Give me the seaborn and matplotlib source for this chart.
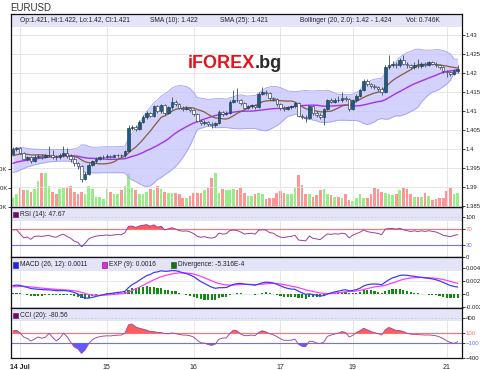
import matplotlib
matplotlib.use("Agg")
import matplotlib.pyplot as plt
import numpy as np
import pandas as pd
import seaborn as sns
from matplotlib.patches import Rectangle

W, H = 480, 370

# hourly bars, 0 = 14 Jul 00:00 (weekend hours skipped, "19" = Sunday open)
HOURS = list(range(-2, 122))

# closes before the visible window, estimated from where SMA/Bollinger/MACD/RSI
# stand at the left edge; they only feed the indicators and are not drawn
PRE_CLOSES = [
    1.3935, 1.3930, 1.3928, 1.3935, 1.3932, 1.3940, 1.3938, 1.3945, 1.3942, 1.3950,
    1.3948, 1.3955, 1.3958, 1.3965, 1.3962, 1.3970, 1.3968, 1.3975, 1.3972, 1.3980,
    1.3978, 1.3985, 1.3982, 1.3978, 1.3984, 1.3988,
]

OPENS = [
    1.3988, 1.4000, 1.4002, 1.3990, 1.3975, 1.3978, 1.3968, 1.3980, 1.3982, 1.3980, 1.3983, 1.3985,
    1.3980, 1.3978, 1.3985, 1.3990, 1.3982, 1.3975, 1.3962, 1.3955, 1.3922, 1.3935,
    1.3958, 1.3968, 1.3975, 1.3978, 1.3980, 1.3982, 1.3980, 1.3983, 1.3985, 1.3984,
    1.3995, 1.4055, 1.4058, 1.4052, 1.4072, 1.4085, 1.4095, 1.4088, 1.4112, 1.4100,
    1.4115, 1.4095, 1.4110, 1.4125, 1.4118, 1.4108, 1.4105, 1.4108, 1.4102, 1.4092,
    1.4075, 1.4068, 1.4072, 1.4065, 1.4062, 1.4068, 1.4098, 1.4092, 1.4095, 1.4125,
    1.4130, 1.4128, 1.4120, 1.4108, 1.4112, 1.4115, 1.4110, 1.4145, 1.4150, 1.4148,
    1.4135, 1.4132, 1.4118, 1.4108, 1.4105, 1.4110, 1.4112, 1.4120, 1.4088, 1.4085,
    1.4082, 1.4112, 1.4095, 1.4090, 1.4085, 1.4105, 1.4128, 1.4125, 1.4130, 1.4128,
    1.4135, 1.4132, 1.4105, 1.4128, 1.4140, 1.4155, 1.4180, 1.4170, 1.4165, 1.4162,
    1.4158, 1.4150, 1.4215, 1.4222, 1.4225, 1.4220, 1.4235, 1.4225, 1.4220, 1.4215,
    1.4222, 1.4218, 1.4225, 1.4222, 1.4228, 1.4225, 1.4222, 1.4215, 1.4205, 1.4202, 1.4198, 1.4205,
]
HIGHS = [
    1.4004, 1.4006, 1.4005, 1.3992, 1.3982, 1.3981, 1.3984, 1.3988, 1.3986, 1.3988, 1.4008, 1.3998,
    1.3985, 1.3990, 1.4008, 1.4002, 1.3988, 1.3978, 1.3965, 1.3958, 1.3940, 1.3962,
    1.3972, 1.3980, 1.3982, 1.3984, 1.3986, 1.3985, 1.3987, 1.3988, 1.3988, 1.3998,
    1.4062, 1.4064, 1.4062, 1.4076, 1.4089, 1.4100, 1.4098, 1.4116, 1.4115, 1.4119,
    1.4118, 1.4114, 1.4137, 1.4128, 1.4120, 1.4112, 1.4112, 1.4110, 1.4105, 1.4095,
    1.4080, 1.4077, 1.4075, 1.4070, 1.4072, 1.4102, 1.4101, 1.4099, 1.4128, 1.4155,
    1.4160, 1.4132, 1.4123, 1.4116, 1.4119, 1.4118, 1.4149, 1.4162, 1.4155, 1.4151,
    1.4138, 1.4135, 1.4121, 1.4112, 1.4114, 1.4116, 1.4124, 1.4123, 1.4092, 1.4090,
    1.4116, 1.4115, 1.4099, 1.4094, 1.4108, 1.4131, 1.4133, 1.4135, 1.4140, 1.4150,
    1.4140, 1.4135, 1.4132, 1.4144, 1.4159, 1.4185, 1.4184, 1.4174, 1.4170, 1.4166,
    1.4162, 1.4220, 1.4247, 1.4232, 1.4230, 1.4240, 1.4248, 1.4230, 1.4225, 1.4228,
    1.4236, 1.4230, 1.4230, 1.4232, 1.4231, 1.4228, 1.4225, 1.4218, 1.4208, 1.4206, 1.4210, 1.4220,
]
LOWS = [
    1.3985, 1.3996, 1.3986, 1.3970, 1.3968, 1.3962, 1.3965, 1.3976, 1.3975, 1.3977, 1.3980, 1.3975,
    1.3972, 1.3974, 1.3980, 1.3976, 1.3966, 1.3955, 1.3948, 1.3914, 1.3918, 1.3932,
    1.3955, 1.3964, 1.3970, 1.3975, 1.3976, 1.3977, 1.3978, 1.3979, 1.3980, 1.3980,
    1.3993, 1.4050, 1.4048, 1.4050, 1.4068, 1.4080, 1.4083, 1.4085, 1.4095, 1.4096,
    1.4090, 1.4092, 1.4106, 1.4112, 1.4104, 1.4101, 1.4102, 1.4097, 1.4086, 1.4070,
    1.4063, 1.4064, 1.4060, 1.4055, 1.4058, 1.4065, 1.4088, 1.4089, 1.4092, 1.4122,
    1.4124, 1.4115, 1.4104, 1.4104, 1.4108, 1.4106, 1.4108, 1.4141, 1.4142, 1.4130,
    1.4127, 1.4113, 1.4103, 1.4100, 1.4102, 1.4106, 1.4108, 1.4084, 1.4080, 1.4071,
    1.4080, 1.4090, 1.4085, 1.4080, 1.4063, 1.4102, 1.4120, 1.4121, 1.4123, 1.4124,
    1.4127, 1.4100, 1.4102, 1.4124, 1.4136, 1.4152, 1.4165, 1.4160, 1.4157, 1.4153,
    1.4143, 1.4148, 1.4210, 1.4216, 1.4214, 1.4216, 1.4220, 1.4214, 1.4210, 1.4211,
    1.4212, 1.4214, 1.4217, 1.4218, 1.4220, 1.4217, 1.4210, 1.4200, 1.4190, 1.4192, 1.4196, 1.4200,
]
CLOSES = [
    1.4000, 1.4002, 1.3990, 1.3975, 1.3978, 1.3968, 1.3980, 1.3982, 1.3980, 1.3983, 1.3985, 1.3980,
    1.3978, 1.3985, 1.3990, 1.3982, 1.3975, 1.3962, 1.3955, 1.3922, 1.3935, 1.3958,
    1.3968, 1.3975, 1.3978, 1.3980, 1.3982, 1.3980, 1.3983, 1.3985, 1.3984, 1.3995,
    1.4055, 1.4058, 1.4052, 1.4072, 1.4085, 1.4095, 1.4088, 1.4112, 1.4100, 1.4115,
    1.4095, 1.4110, 1.4125, 1.4118, 1.4108, 1.4105, 1.4108, 1.4102, 1.4092, 1.4075,
    1.4068, 1.4072, 1.4065, 1.4062, 1.4068, 1.4098, 1.4092, 1.4095, 1.4125, 1.4130,
    1.4128, 1.4120, 1.4108, 1.4112, 1.4115, 1.4110, 1.4145, 1.4150, 1.4148, 1.4135,
    1.4132, 1.4118, 1.4108, 1.4105, 1.4110, 1.4112, 1.4120, 1.4088, 1.4085, 1.4082,
    1.4112, 1.4095, 1.4090, 1.4085, 1.4105, 1.4128, 1.4125, 1.4130, 1.4128, 1.4135,
    1.4132, 1.4105, 1.4128, 1.4140, 1.4155, 1.4180, 1.4170, 1.4165, 1.4162, 1.4158,
    1.4150, 1.4215, 1.4222, 1.4225, 1.4220, 1.4235, 1.4225, 1.4220, 1.4215, 1.4222,
    1.4218, 1.4225, 1.4222, 1.4228, 1.4225, 1.4222, 1.4215, 1.4205, 1.4202, 1.4198, 1.4205, 1.4210,
]
VOLUMES_K = [
    0.49, 0.68, 1.00, 0.90, 0.87, 0.78, 0.96, 1.37, 1.80, 1.80, 1.10, 0.78,
    0.70, 0.96, 1.00, 1.07, 1.10, 0.78, 0.70, 0.78, 0.70, 1.10,
    0.96, 0.50, 0.50, 0.40, 0.96, 0.78, 0.70, 0.70, 0.87, 1.10,
    1.80, 1.00, 0.87, 0.70, 0.70, 0.78, 0.96, 0.87, 1.10, 0.96,
    0.78, 0.72, 0.75, 0.75, 0.67, 0.49, 0.49, 0.58, 0.75, 0.75,
    0.75, 0.88, 1.02, 1.54, 1.81, 0.75, 0.93, 0.88, 0.88, 0.93,
    0.88, 1.02, 0.75, 0.58, 0.58, 0.67, 0.72, 0.67, 0.40, 0.45,
    0.45, 0.72, 0.85, 0.72, 0.70, 0.70, 1.02, 1.68, 1.16, 0.67,
    0.67, 0.53, 0.63, 0.90, 0.93, 0.67, 0.62, 0.55, 0.55, 0.49,
    0.67, 0.38, 0.30, 0.49, 0.67, 0.49, 0.49, 0.67, 1.02, 0.93,
    0.80, 0.75, 0.70, 0.62, 0.67, 0.88, 0.98, 0.93, 0.67, 0.53,
    0.53, 0.53, 0.72, 0.60, 0.35, 0.40, 0.45, 0.45, 0.85, 1.02, 0.67, 0.75,
]

DAY_TICKS = [0, 24, 48, 72, 92, 118]
DAY_LABELS = ["14 Jul", "15", "16", "17", "19", "21"]
PRICE_TICKS = [1.385, 1.39, 1.395, 1.4, 1.405, 1.41, 1.415, 1.42, 1.425, 1.43]
VOL_TICKS = [0, 1, 2]
VOL_LABELS = ["0.0K", "1.0K", "2.0K"]
RSI_TICKS = [0, 30, 70, 100]
MACD_TICKS = [-0.002, 0, 0.002, 0.004]
MACD_LABELS = ["-0.002", "0", "0.002", "0.004"]
CCI_TICKS = [-400, -100, 100, 400]

MAIN_LEGEND = [
    (13, "#1e6b8f", "Op:1.421, Hi:1.422, Lo:1.42, Cl:1.421"),
    (143, "#7a3b10", "SMA (10): 1.422"),
    (213, "#9b1fe8", "SMA (25): 1.421"),
    (293, "#7070ee", "Bollinger (20, 2.0): 1.42 - 1.424"),
    (399, "#88ee88", "Vol: 0.746K"),
]
RSI_LEGEND = [(13, "#800080", "RSI (14): 47.67")]
MACD_LEGEND = [
    (13, "#2222ee", "MACD (26, 12): 0.0011"),
    (102, "#ee22ee", "EXP (9): 0.0016"),
    (171, "#117711", "Divergence: -5.316E-4"),
]
CCI_LEGEND = [(13, "#800080", "CCI (20): -80.56")]

GRID = "#e2e2e2"
RED = "#ff6f6f"
BLUE = "#7070ff"
TICK_SIZE = 4.3


def indicators() -> pd.DataFrame:
    n_pre = len(PRE_CLOSES)
    full = pd.DataFrame({
        "c": PRE_CLOSES + CLOSES,
        "h": PRE_CLOSES + HIGHS,
        "l": PRE_CLOSES + LOWS,
    })
    c = full["c"]
    full["sma10"] = c.rolling(10, min_periods=1).mean()
    full["sma25"] = c.rolling(25, min_periods=1).mean()
    mid = c.rolling(20, min_periods=1).mean()
    sd = c.rolling(20, min_periods=1).std(ddof=0)
    full["bb_up"] = mid + 2 * sd
    full["bb_lo"] = mid - 2 * sd
    delta = c.diff()
    gain = delta.clip(lower=0).ewm(alpha=1 / 14, adjust=False).mean()
    loss = (-delta.clip(upper=0)).ewm(alpha=1 / 14, adjust=False).mean()
    full["rsi"] = (100 - 100 / (1 + gain / loss)).fillna(50)
    macd = c.ewm(span=12, adjust=False).mean() - c.ewm(span=26, adjust=False).mean()
    full["macd"] = macd
    full["sig"] = macd.ewm(span=9, adjust=False).mean()
    full["div"] = full["macd"] - full["sig"]
    tp = (full["h"] + full["l"] + full["c"]) / 3
    tp_mean = tp.rolling(20, min_periods=1).mean()
    md = tp.rolling(20, min_periods=1).apply(lambda a: np.mean(np.abs(a - a.mean())), raw=True)
    full["cci"] = ((tp - tp_mean) / (0.015 * md)).replace([np.inf, -np.inf], np.nan).fillna(0)

    df = full.iloc[n_pre:].reset_index(drop=True)
    df["x"] = HOURS
    df["o"] = OPENS
    df["v"] = VOLUMES_K
    return df


def rect(top_px, bottom_px):
    return [11 / W, 1 - bottom_px / H, 451 / W, (bottom_px - top_px) / H]


def style_panel(ax, strip_px, height_px, ticks, labels=None):
    for side in ["left", "right", "top", "bottom"]:
        ax.spines[side].set_color("#111111")
        ax.spines[side].set_linewidth(0.9)
    ax.add_patch(Rectangle((0, 1 - strip_px / height_px), 1, strip_px / height_px,
                           transform=ax.transAxes, facecolor="#e4e4f8", edgecolor="none", zorder=0.5))
    for d in DAY_TICKS:
        ax.axvline(d, color=GRID, linewidth=0.6, zorder=0.2)
    ax.yaxis.tick_right()
    ax.set_yticks(ticks)
    if labels is not None:
        ax.set_yticklabels(labels)
    ax.tick_params(axis="y", labelsize=TICK_SIZE, length=2.0, width=0.6, pad=0.6, colors="#222222")
    ax.tick_params(axis="x", length=0, labelbottom=False)
    ax.set_xlim(-2.5, 122.2)
    ax.set_xlabel("")
    ax.set_ylabel("")


def color_ticks(ax, ticks, red_value, blue_value):
    for lab, t in zip(ax.get_yticklabels(), ticks):
        if t == red_value:
            lab.set_color(RED)
        elif t == blue_value:
            lab.set_color(BLUE)


def legend_row(fig, y_px, items):
    for x_px, color, label in items:
        fig.add_artist(Rectangle((x_px / W, 1 - (y_px + 2.6) / H), 5 / W, 5.2 / H,
                                 transform=fig.transFigure, facecolor=color,
                                 edgecolor="#333333", linewidth=0.4))
        fig.text((x_px + 7) / W, 1 - y_px / H, label, fontsize=4.8, va="center",
                 ha="left", color="#222222")


def main() -> None:
    sns.set_style("white")
    plt.rcParams["font.family"] = ["Liberation Sans", "DejaVu Sans"]
    df = indicators()
    x = df["x"]

    fig = plt.figure(figsize=(W / 100, H / 100), dpi=100)
    fig.patch.set_facecolor("white")

    # --- price panel with volume underneath ---
    ax = fig.add_axes(rect(14, 207))
    vol = ax.twinx()
    ax.set_zorder(2)
    vol.set_zorder(1)
    ax.patch.set_visible(False)
    style_panel(ax, 13, 193, PRICE_TICKS, [f"{t:g}" for t in PRICE_TICKS])
    ax.set_ylim(1.38474, 1.43553)
    for t in PRICE_TICKS:
        ax.axhline(t, color=GRID, linewidth=0.6, zorder=0.2)

    colors = np.where(df["c"] > df["o"], "#96ee86", np.where(df["c"] < df["o"], "#ff9696", "#bbbbbb"))
    vol.bar(x, df["v"], width=0.74, color=colors, linewidth=0)
    vol.set_ylim(0, 10.15)
    vol.yaxis.tick_left()
    vol.set_yticks(VOL_TICKS)
    vol.set_yticklabels(VOL_LABELS)
    vol.tick_params(axis="y", labelsize=TICK_SIZE, length=2.0, width=0.6, pad=0.5, colors="#222222")
    for s in vol.spines.values():
        s.set_visible(False)
    vol.set_xlim(-2.5, 122.2)

    ax.fill_between(x, df["bb_lo"], df["bb_up"], color="#c4c4fb", alpha=0.75, linewidth=0, zorder=1)
    ax.plot(x, df["bb_up"], color="#a0a0f6", linewidth=0.6, zorder=1.1)
    ax.plot(x, df["bb_lo"], color="#a0a0f6", linewidth=0.6, zorder=1.1)
    sns.lineplot(x=x, y=df["sma25"], ax=ax, color="#a52ff0", linewidth=1.0, legend=False, zorder=3)
    sns.lineplot(x=x, y=df["sma10"], ax=ax, color="#8b5a3c", linewidth=0.9, legend=False, zorder=3)

    ax.vlines(x, df["l"], df["h"], color="#3b4b5b", linewidth=0.6, zorder=4)
    body = (df["c"] - df["o"]).abs().clip(lower=0.00007)
    bottom = df[["o", "c"]].min(axis=1)
    up = df["c"] >= df["o"]
    ax.bar(x, body, bottom=bottom, width=0.72,
           color=np.where(up, "#1b5c80", "white"), edgecolor="#24384c", linewidth=0.45, zorder=5)
    ax.set_xlabel("")
    ax.set_ylabel("")

    # --- RSI ---
    ax_rsi = fig.add_axes(rect(207, 257), sharex=ax)
    style_panel(ax_rsi, 14, 50, RSI_TICKS)
    ax_rsi.set_ylim(0, 125)
    ax_rsi.axhline(100, color="#cccccc", linewidth=0.6, linestyle=(0, (2, 2)), zorder=0.8)
    ax_rsi.axhline(70, color=RED, linewidth=0.8, zorder=1)
    ax_rsi.axhline(30, color=BLUE, linewidth=0.8, zorder=1)
    ax_rsi.fill_between(x, df["rsi"], 70, where=df["rsi"] > 70, interpolate=True, color="#ff5c5c", linewidth=0, zorder=2)
    ax_rsi.fill_between(x, df["rsi"], 30, where=df["rsi"] < 30, interpolate=True, color="#5c5cff", linewidth=0, zorder=2)
    sns.lineplot(x=x, y=df["rsi"], ax=ax_rsi, color="#9a3f9a", linewidth=0.7, legend=False, zorder=3)
    ax_rsi.set_xlabel("")
    ax_rsi.set_ylabel("")
    color_ticks(ax_rsi, RSI_TICKS, 70, 30)

    # --- MACD ---
    ax_macd = fig.add_axes(rect(257, 308), sharex=ax)
    style_panel(ax_macd, 14, 51, MACD_TICKS, MACD_LABELS)
    ax_macd.set_ylim(-0.00215, 0.00569)
    for t in MACD_TICKS:
        ax_macd.axhline(t, color=GRID, linewidth=0.5, zorder=0.2)
    ax_macd.bar(x, df["div"], width=0.6, color="#138a13", linewidth=0, zorder=2)
    sns.lineplot(x=x, y=df["sig"], ax=ax_macd, color="#ff3cff", linewidth=0.9, legend=False, zorder=3)
    sns.lineplot(x=x, y=df["macd"], ax=ax_macd, color="#3c3cff", linewidth=0.9, legend=False, zorder=3)
    ax_macd.set_xlabel("")
    ax_macd.set_ylabel("")

    # --- CCI ---
    ax_cci = fig.add_axes(rect(308, 358), sharex=ax)
    style_panel(ax_cci, 13, 50, CCI_TICKS)
    ax_cci.set_ylim(-400, 600)
    ax_cci.axhline(400, color="#cccccc", linewidth=0.6, linestyle=(0, (2, 2)), zorder=0.8)
    ax_cci.axhline(100, color=RED, linewidth=0.8, zorder=1)
    ax_cci.axhline(-100, color=BLUE, linewidth=0.8, zorder=1)
    ax_cci.fill_between(x, df["cci"], 100, where=df["cci"] > 100, interpolate=True, color="#ff5c5c", linewidth=0, zorder=2)
    ax_cci.fill_between(x, df["cci"], -100, where=df["cci"] < -100, interpolate=True, color="#5c5cff", linewidth=0, zorder=2)
    sns.lineplot(x=x, y=df["cci"], ax=ax_cci, color="#a050a0", linewidth=0.7, legend=False, zorder=3)
    ax_cci.set_xlabel("")
    ax_cci.set_ylabel("")
    ax_cci.set_xticks(DAY_TICKS)
    ax_cci.set_xticklabels(DAY_LABELS)
    ax_cci.tick_params(axis="x", labelbottom=True, length=2.5, width=0.6, labelsize=5, pad=1.5, colors="#222222")
    ax_cci.get_xticklabels()[0].set_fontweight("bold")
    color_ticks(ax_cci, CCI_TICKS, 100, -100)

    # legends and texts
    legend_row(fig, 21, MAIN_LEGEND)
    legend_row(fig, 214.5, RSI_LEGEND)
    legend_row(fig, 265, MACD_LEGEND)
    legend_row(fig, 315.5, CCI_LEGEND)
    fig.text(10 / W, 1 - 8 / H, "EURUSD", fontsize=7, va="center", ha="left", color="#333333")
    mark = fig.text(188 / W, 1 - 68 / H, "iFOREX", fontsize=13, fontweight="bold",
                    color="#e3141b", va="baseline", ha="left", zorder=6)
    ax.annotate(".bg", xy=(1, 0), xycoords=mark, va="bottom", ha="left",
                fontsize=13, fontweight="bold", color="#2b2b2b", zorder=6)

    fig.savefig("out.png", dpi=100, facecolor="white")
    plt.close(fig)


if __name__ == "__main__":
    main()
